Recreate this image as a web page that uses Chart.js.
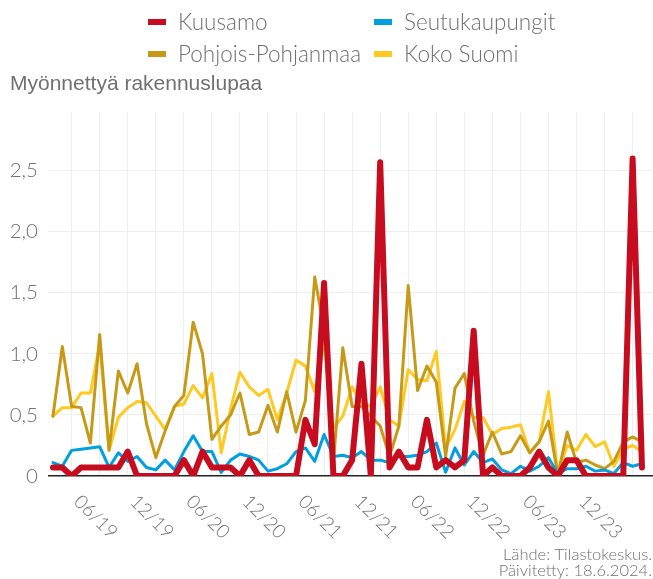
<!DOCTYPE html>
<html>
<head>
<meta charset="utf-8">
<script src="https://cdn.jsdelivr.net/npm/chart.js@4.4.1/dist/chart.umd.min.js"></script>
<style>
  html, body { margin: 0; padding: 0; background: #fff; }
  canvas { display: block; }
</style>
</head>
<body>
<canvas id="chart" width="653" height="579"></canvas>
<script>
// monthly data, 01/19 .. 04/24
const months = [
  '01/19', '02/19', '03/19', '04/19', '05/19', '06/19', '07/19', '08/19', '09/19', '10/19', '11/19', '12/19',
  '01/20', '02/20', '03/20', '04/20', '05/20', '06/20', '07/20', '08/20', '09/20', '10/20', '11/20', '12/20',
  '01/21', '02/21', '03/21', '04/21', '05/21', '06/21', '07/21', '08/21', '09/21', '10/21', '11/21', '12/21',
  '01/22', '02/22', '03/22', '04/22', '05/22', '06/22', '07/22', '08/22', '09/22', '10/22', '11/22', '12/22',
  '01/23', '02/23', '03/23', '04/23', '05/23', '06/23', '07/23', '08/23', '09/23', '10/23', '11/23', '12/23',
  '01/24', '02/24', '03/24', '04/24'
];
const xTickLabels = ['06/19', '12/19', '06/20', '12/20', '06/21', '12/21', '06/22', '12/22', '06/23', '12/23'];
const gridMonths = ['03', '06', '09', '12'];
const yTicks = [0, 0.5, 1, 1.5, 2, 2.5];

const kuusamo = [
  0.07, 0.07, 0, 0.07, 0.07, 0.07, 0.07, 0.07, 0.2, 0, 0, 0,
  0, 0, 0.13, 0, 0.2, 0.07, 0.07, 0.07, 0, 0.13, 0, 0,
  0, 0, 0, 0.46, 0.26, 1.58, 0, 0, 0.13, 0.92, 0, 2.57,
  0.07, 0.2, 0.07, 0.07, 0.46, 0.07, 0.13, 0.07, 0.13, 1.19, 0, 0.07,
  0, 0, 0, 0.07, 0.2, 0.07, 0, 0.13, 0.13, 0, 0, 0,
  0, 0, 2.6, 0.07
];
const seutukaupungit = [
  0.11, 0.08, 0.21, 0.22, 0.23, 0.24, 0.07, 0.19, 0.12, 0.16, 0.07, 0.05,
  0.13, 0.05, 0.2, 0.33, 0.2, 0.2, 0.03, 0.13, 0.18, 0.16, 0.13, 0.04,
  0.06, 0.1, 0.2, 0.23, 0.12, 0.34, 0.16, 0.17, 0.15, 0.2, 0.13, 0.13,
  0.11, 0.16, 0.16, 0.17, 0.2, 0.27, 0.03, 0.23, 0.09, 0.2, 0.11, 0.14,
  0.05, 0.02, 0.08, 0.04, 0.08, 0.15, 0.02, 0.06, 0.06, 0.08, 0.04, 0.05,
  0.02, 0.11, 0.08, 0.1
];
const pohjoisPohjanmaa = [
  0.49, 1.06, 0.57, 0.56, 0.27, 1.16, 0.21, 0.86, 0.68, 0.92, 0.43, 0.15,
  0.37, 0.57, 0.66, 1.26, 1.0, 0.3, 0.41, 0.5, 0.68, 0.34, 0.36, 0.58,
  0.36, 0.69, 0.36, 0.62, 1.63, 1.2, 0.12, 1.05, 0.57, 0.57, 0.49, 0.41,
  0.16, 0.41, 1.56, 0.7, 0.9, 0.77, 0.16, 0.72, 0.84, 0.45, 0.17, 0.36,
  0.18, 0.2, 0.33, 0.19, 0.28, 0.45, 0.01, 0.36, 0.11, 0.13, 0.09, 0.06,
  0.12, 0.28, 0.32, 0.28
];
const kokoSuomi = [
  0.49, 0.56, 0.56, 0.68, 0.68, 1.08, 0.21, 0.48, 0.56, 0.61, 0.6, 0.49,
  0.38, 0.57, 0.59, 0.74, 0.64, 0.84, 0.19, 0.55, 0.85, 0.73, 0.66, 0.71,
  0.46, 0.68, 0.95, 0.9, 0.69, 1.09, 0.39, 0.49, 0.73, 0.6, 0.57, 0.73,
  0.46, 0.41, 0.87, 0.79, 0.78, 1.02, 0.23, 0.38, 0.61, 0.48, 0.48, 0.34,
  0.39, 0.4, 0.42, 0.19, 0.28, 0.69, 0.02, 0.25, 0.21, 0.34, 0.24, 0.28,
  0.08, 0.22, 0.25, 0.2
];

const textColor = '#707070';
const lightFont = 'Lato';

const toPoints = arr => arr.map((v, i) => ({ x: i, y: v }));

function line(label, values, color, width) {
  return {
    label: label,
    data: toPoints(values),
    borderColor: color,
    backgroundColor: color,
    borderWidth: width,
    pointRadius: 0,
    tension: 0,
    borderJoinStyle: 'round',
    borderCapStyle: 'round'
  };
}

// legend in two columns, x labels tilted downwards, source note
const extras = {
  id: 'extras',
  afterDraw(chart) {
    const ctx = chart.ctx;
    const cols = [148, 374];
    const rows = [22, 54];
    ctx.save();
    ctx.font = '300 22.5px ' + lightFont;
    ctx.textBaseline = 'middle';
    chart.data.datasets.forEach((ds, i) => {
      const x = cols[i % 2];
      const y = rows[Math.floor(i / 2)];
      ctx.fillStyle = ds.borderColor;
      ctx.fillRect(x, y - 3, 18, 6);
      ctx.fillStyle = textColor;
      ctx.fillText(ds.label, x + 30, y + 1);
    });

    const xs = chart.scales.x;
    const bottom = chart.chartArea.bottom;
    ctx.font = '300 19px ' + lightFont;
    ctx.textAlign = 'center';
    months.forEach((m, i) => {
      if (!xTickLabels.includes(m)) return;
      ctx.save();
      ctx.translate(xs.getPixelForValue(i) - 4, bottom + 41);
      ctx.rotate(Math.PI / 4);
      ctx.fillText(m, 0, 0);
      ctx.restore();
    });

    ctx.font = '300 16.5px ' + lightFont;
    ctx.textAlign = 'right';
    ctx.fillText('Lähde: Tilastokeskus.', 652, 555);
    ctx.fillText('Päivitetty: 18.6.2024.', 652, 571);
    ctx.restore();
  }
};

new Chart(document.getElementById('chart'), {
  type: 'line',
  data: {
    datasets: [
      line('Kuusamo', kuusamo, '#c60c1e', 6),
      line('Seutukaupungit', seutukaupungit, '#009fe0', 3),
      line('Pohjois-Pohjanmaa', pohjoisPohjanmaa, '#c69a17', 3),
      line('Koko Suomi', kokoSuomi, '#ffc921', 3)
    ]
  },
  options: {
    responsive: false,
    animation: false,
    layout: { padding: { top: 70, left: 10, right: 0, bottom: 103 } },
    plugins: {
      legend: { display: false },
      tooltip: { enabled: false },
      title: {
        display: true,
        text: 'Myönnettyä rakennuslupaa',
        align: 'start',
        color: textColor,
        font: { family: 'Liberation Sans', size: 21, weight: 'normal' },
        padding: { top: 2, bottom: 15 }
      }
    },
    scales: {
      x: {
        type: 'linear',
        min: -0.53,
        max: 64.18,
        afterBuildTicks: scale => {
          scale.ticks = months
            .map((m, i) => gridMonths.includes(m.slice(0, 2)) ? i : null)
            .filter(v => v !== null)
            .map(v => ({ value: v }));
        },
        ticks: { display: false },
        grid: { color: '#eeeeee', lineWidth: 1, drawTicks: false },
        border: { display: false }
      },
      y: {
        min: 0,
        max: 2.98,
        afterBuildTicks: scale => {
          scale.ticks = yTicks.map(v => ({ value: v }));
        },
        afterFit: scale => { scale.width = 38; },
        ticks: {
          color: textColor,
          padding: 10,
          font: { family: lightFont, size: 20.5, weight: 300 },
          callback: v => v === 0 ? '0' : v.toFixed(1).replace('.', ',')
        },
        grid: {
          drawTicks: false,
          color: c => c.tick && c.tick.value === 0 ? '#222222' : '#eeeeee',
          lineWidth: c => c.tick && c.tick.value === 0 ? 1.5 : 1
        },
        border: { display: false }
      }
    }
  },
  plugins: [extras]
});
</script>
</body>
</html>
